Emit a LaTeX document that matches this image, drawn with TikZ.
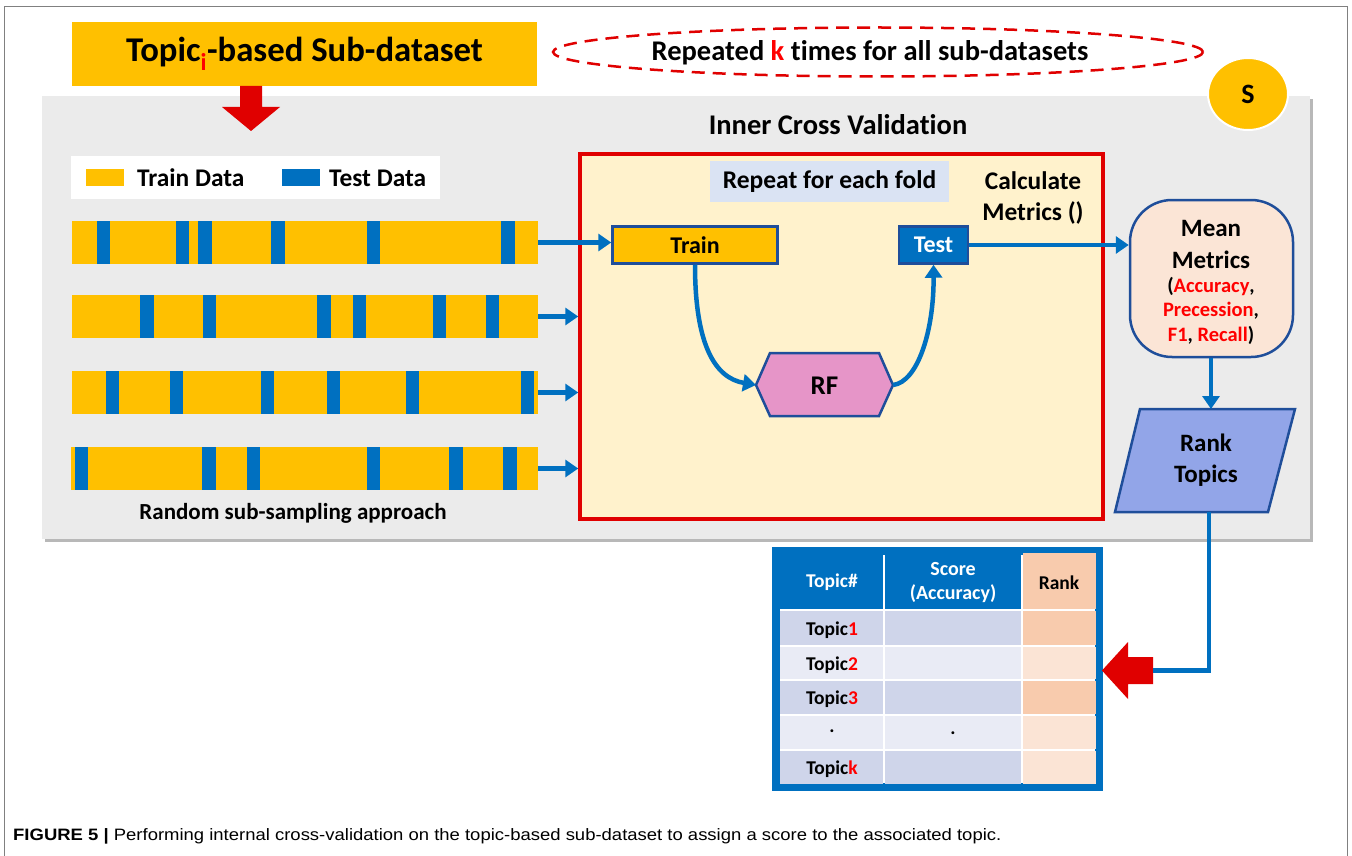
\documentclass[tikz,border=0pt]{standalone}
\usepackage{fontspec}
\setmainfont{Carlito}[Ligatures=CommonOff]
\newfontfamily\capfont{Liberation Sans}[FakeStretch=1.12]
\usetikzlibrary{arrows.meta,shapes.geometric,calc}
\definecolor{cyellow}{HTML}{FFC000}
\definecolor{cblue}{HTML}{0070C0}
\definecolor{cdark}{HTML}{1F4E9A}
\definecolor{cred}{HTML}{E00000}
\definecolor{cgray}{HTML}{EBEBEB}
\definecolor{cshadow}{HTML}{B8B8B8}
\definecolor{ccream}{HTML}{FFF2CC}
\definecolor{clblue}{HTML}{DAE3F3}
\definecolor{cpink}{HTML}{E695C8}
\definecolor{cpeach}{HTML}{FBE5D6}
\definecolor{cperi}{HTML}{92A5E8}
\definecolor{trow}{HTML}{CFD5EA}
\definecolor{trowl}{HTML}{E9EBF5}
\definecolor{rankd}{HTML}{F8CBAD}
\definecolor{rankl}{HTML}{FBE4D5}
\definecolor{txtred}{HTML}{FF0000}
\definecolor{cframe}{HTML}{808080}
\tikzset{
  conn/.style={draw=cblue, line width=4.5pt, -{Triangle[length=13pt,width=17pt]}},
  barnode/.style={fill=cyellow, minimum width=466pt, minimum height=43pt, inner sep=0pt, outer sep=0pt},
  cell/.style={inner sep=0pt, outer sep=0pt, font=\fontsize{19.5}{22}\selectfont\bfseries},
  big/.style={font=\fontsize{24}{29}\selectfont\bfseries},
  legtxt/.style={font=\fontsize{25.4}{29}\selectfont\bfseries},
}
\begin{document}
\begin{tikzpicture}[x=1pt,y=-1pt]
\useasboundingbox (0,0) rectangle (1352,856);
\fill[white] (0,0) rectangle (1352,856);
% outer frame
\draw[cframe, line width=1pt] (4.5,856) -- (4.5,6.5) -- (1347.5,6.5) -- (1347.5,856);
% gray panel
\fill[cshadow] (45,99) rectangle (1313,542);
\fill[cgray] (42,96) rectangle (1310,539);
% topic box
\node[fill=cyellow, minimum width=465pt, minimum height=64pt, inner sep=0pt] (topic) at (304.5,54)
  {\fontsize{34.7}{40}\selectfont\bfseries Topic\textsubscript{\textcolor{txtred}{i}}-based Sub-dataset};
\fill[cred] (240,86) -- (262,86) -- (262,107) -- (280,107) -- (251,131) -- (222,107) -- (240,107) -- cycle;
% repeated ellipse
\node[ellipse, draw=cred, line width=2.5pt, dash pattern=on 13pt off 8pt, minimum width=650pt, minimum height=49pt] (rep) at (878,52) {};
\node[font=\fontsize{28.5}{32}\selectfont\bfseries] (reptxt) at (870,53) {Repeated \textcolor{txtred}{k} times for all sub-datasets};
% S circle
\node[ellipse, fill=cyellow, draw=white, line width=2pt, minimum width=80pt, minimum height=72pt, inner sep=0pt] (S) at (1248,94) {\fontsize{28}{30}\selectfont\bfseries S};
% inner cross validation
\node[font=\fontsize{28.5}{32}\selectfont\bfseries] (icv) at (838,125) {Inner Cross Validation};
% legend
\node[fill=white, minimum width=369pt, minimum height=42pt, inner sep=0pt] (legend) at (255.5,177.5) {};
\fill[cyellow] (86,169) rectangle (124,186);
\node[legtxt, anchor=west, inner sep=0pt] (ltrain) at (137,178) {Train Data};
\fill[cblue] (282,169) rectangle (320,186);
\node[legtxt, anchor=west, inner sep=0pt] (ltest) at (329,178) {Test Data};
% bars
\node[barnode] (bar1) at (305,242.5) {};
\node[barnode] (bar2) at (305,316.5) {};
\node[barnode] (bar3) at (305,392.5) {};
\node[barnode, minimum width=467pt] (bar4) at (304.5,468.5) {};
\foreach \a/\b in {97/110,176/189,198/212,271/285,367/380,501/515}
  \fill[cblue] (\a,221) rectangle (\b,264);
\foreach \a/\b in {140/154,203/216,317/331,353/366,433/446,486/499}
  \fill[cblue] (\a,295) rectangle (\b,338);
\foreach \a/\b in {106/119,170/183,261/274,327/340,406/419,521/534}
  \fill[cblue] (\a,371) rectangle (\b,414);
\foreach \a/\b in {75/88,202/216,247/260,367/380,449/463,503/517}
  \fill[cblue] (\a,447) rectangle (\b,490);
\node[font=\fontsize{23}{27}\selectfont\bfseries] (rss) at (293,513) {Random sub-sampling approach};
% red box
\node[draw=cred, fill=ccream, line width=3.5pt, minimum width=523pt, minimum height=365pt, inner sep=0pt] (inner) at (841.5,336.5) {};
\node[fill=clblue, minimum width=239pt, minimum height=41pt, inner sep=0pt, font=\fontsize{25.5}{29}\selectfont\bfseries] (rep2) at (829.5,181.5) {Repeat for each fold};
\node[align=center, font=\fontsize{25.4}{31}\selectfont\bfseries] (calc) at (1033,198) {Calculate\\Metrics ()};
\node[draw=cdark, line width=2.5pt, fill=cyellow, minimum width=165pt, minimum height=37pt, inner sep=0pt, big] (train) at (695,245) {Train};
\node[draw=cdark, line width=2.5pt, fill=cblue, minimum width=69pt, minimum height=37pt, inner sep=0pt, big, text=white] (test) at (933.5,245) {Test};
\coordinate (rfL) at (756,385);
\coordinate (rfR) at (893,385);
\draw[cdark, line width=2.5pt, fill=cpink] (756,385) -- (770,353) -- (879,353) -- (893,385) -- (879,416) -- (770,416) -- cycle;
\node[font=\fontsize{27}{30}\selectfont\bfseries] (rf) at (824.5,386) {RF};
% arrows
\draw[conn] (bar1.east) -- (bar1.east -| train.west);
\draw[conn] (bar2.east) -- (bar2.east -| inner.west);
\draw[conn] (bar3.east) -- (bar3.east -| inner.west);
\draw[conn] (bar4.east) -- (bar4.east -| inner.west);
\draw[conn] (train.south) .. controls (695,345) and (715,378) .. (rfL);
\draw[conn] (rfR) .. controls (918,382) and (934,330) .. (test.south);
% mean metrics
\node[draw=cdark, line width=2.5pt, fill=cpeach, rounded corners=42pt, minimum width=163pt, minimum height=157pt, inner sep=0pt] (mean) at (1211.5,278.5) {};
\node[font=\fontsize{25}{30}\selectfont\bfseries] (meanA) at (1211,228) {Mean};
\node[font=\fontsize{25}{30}\selectfont\bfseries] (meanB) at (1211,260) {Metrics};
\node[font=\fontsize{20.5}{23}\selectfont\bfseries] (meanC) at (1211,287) {(\textcolor{txtred}{Accuracy},};
\node[font=\fontsize{20.5}{23}\selectfont\bfseries] (meanD) at (1211,311) {\textcolor{txtred}{Precession},};
\node[font=\fontsize{20.5}{23}\selectfont\bfseries] (meanE) at (1211,335) {\textcolor{txtred}{F1}, \textcolor{txtred}{Recall})};
\draw[conn] (test.east) -- (test.east -| mean.west);
% rank topics
\draw[cdark, line width=2.5pt, fill=cperi] (1140,409) -- (1295,409) -- (1268,512) -- (1115,512) -- cycle;
\node[align=center, minimum width=150pt, minimum height=103pt, inner sep=0pt, font=\fontsize{25}{31}\selectfont\bfseries] (rank) at (1206,460.5) {Rank\\Topics};
\draw[conn] (mean.south -| 1211,0) -- (1211,409);
% table
\draw[cblue, line width=8pt, fill=white] (776,551) rectangle (1099,787);
\def\xa{780}\def\xb{884}\def\xc{1022}\def\xd{1096}
\fill[cblue] (\xa,553) rectangle (\xb-1,609);
\fill[cblue] (\xb+1,553) rectangle (\xc-1,609);
\fill[rankd] (\xc+1,553) rectangle (\xd,609);
\foreach \ya/\yb/\ca/\cb in {611/645/trow/rankd, 647/679/trowl/rankl, 681/714/trow/rankd, 716/749/trowl/rankl, 751/784/trow/rankl}{
  \fill[\ca] (\xa,\ya) rectangle (\xb-1,\yb);
  \fill[\ca] (\xb+1,\ya) rectangle (\xc-1,\yb);
  \fill[\cb] (\xc+1,\ya) rectangle (\xd,\yb);
}
\node[cell, text=white] (h1) at (832,582) {Topic\#};
\node[cell, text=white, align=center, font=\fontsize{20}{24}\selectfont\bfseries] (h2) at (953,583) {Score\\(Accuracy)};
\node[cell] (h3) at (1059,583) {Rank};
\node[cell] (t1) at (832,630) {Topic\textcolor{txtred}{1}};
\node[cell] (t2) at (832,665) {Topic\textcolor{txtred}{2}};
\node[cell] (t3) at (832,699) {Topic\textcolor{txtred}{3}};
\node[cell] (t4) at (832,731) {.};
\node[cell] (s4) at (953,733) {.};
\node[cell] (t5) at (832,769) {Topic\textcolor{txtred}{k}};
% red left arrow + line
\coordinate (arrtail) at (1153,670.5);
\fill[cred] (1102,670.5) -- (1128,642) -- (1128,657) -- (1153,657) -- (1153,684) -- (1128,684) -- (1128,699) -- cycle;
\draw[cblue, line width=4.5pt] (rank.south -| 1209,0) -- (1209,670.5) -- (arrtail);
% caption
\node[anchor=west, inner sep=0pt, font=\capfont\fontsize{16.5}{19}\selectfont] (cap) at (13,836) {\textbf{FIGURE 5 |} Performing internal cross-validation on the topic-based sub-dataset to assign a score to the associated topic.};
\end{tikzpicture}
\end{document}
